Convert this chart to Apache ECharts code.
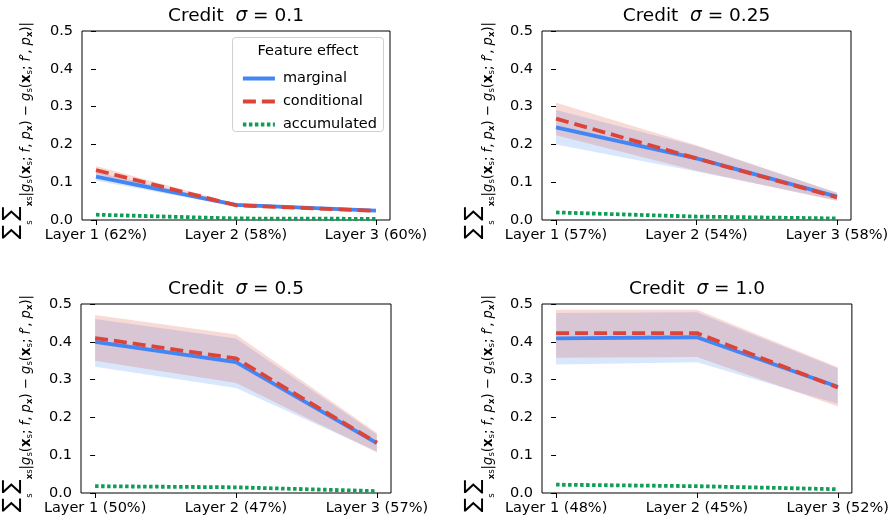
<!DOCTYPE html>
<html>
<head>
<meta charset="utf-8">
<script src="https://cdn.jsdelivr.net/npm/echarts@6/dist/echarts.min.js"></script>
<style>
html,body{margin:0;padding:0;background:#fff;}
#c{width:892px;height:522px;}
</style>
</head>
<body>
<div id="c"></div>
<script>
// ---- data ----
const sigmas = ['0.1', '0.25', '0.5', '1.0'];
const layerLabels = [
  ['Layer 1 (62%)', 'Layer 2 (58%)', 'Layer 3 (60%)'],
  ['Layer 1 (57%)', 'Layer 2 (54%)', 'Layer 3 (58%)'],
  ['Layer 1 (50%)', 'Layer 2 (47%)', 'Layer 3 (57%)'],
  ['Layer 1 (48%)', 'Layer 2 (45%)', 'Layer 3 (52%)']
];
const yTicks = [0, 0.1, 0.2, 0.3, 0.4, 0.5];
const marginal = [[0.115, 0.040, 0.025], [0.245, 0.163, 0.062], [0.400, 0.346, 0.132], [0.409, 0.412, 0.281]];
const conditional = [[0.132, 0.039, 0.024], [0.268, 0.163, 0.060], [0.410, 0.356, 0.133], [0.423, 0.423, 0.279]];
const accumulated = [[0.014, 0.004, 0.003], [0.020, 0.009, 0.004], [0.018, 0.015, 0.005], [0.022, 0.018, 0.010]];
const marginalLow = [[0.104, 0.036, 0.022], [0.200, 0.128, 0.052], [0.334, 0.278, 0.110], [0.340, 0.346, 0.236]];
const marginalHigh = [[0.126, 0.044, 0.028], [0.291, 0.196, 0.072], [0.460, 0.409, 0.155], [0.476, 0.478, 0.330]];
const conditionalLow = [[0.121, 0.035, 0.021], [0.224, 0.130, 0.050], [0.350, 0.291, 0.107], [0.358, 0.360, 0.229]];
const conditionalHigh = [[0.143, 0.043, 0.027], [0.310, 0.198, 0.072], [0.471, 0.419, 0.159], [0.485, 0.485, 0.333]];
const seriesNames = ['marginal', 'conditional', 'accumulated'];

// ---- style ----
const FONT = 'DejaVu Sans';
const BLUE = '#4285f4', RED = '#db4437', GREEN = '#0f9d58';
const LW = 3.8;
const grids = [
  {left: 82, top: 31, width: 308, height: 189},
  {left: 542, top: 31, width: 309, height: 189},
  {left: 81, top: 304, width: 310, height: 189},
  {left: 542, top: 304, width: 310, height: 189}
];

const xAxes = [], yAxes = [], series = [], graphics = [];
grids.forEach((g, k) => {
  xAxes.push({
    type: 'value', gridIndex: k, min: -0.1, max: 2.1,
    axisLine: {show: false},
    splitLine: {show: false},
    axisTick: {show: true, length: 5, lineStyle: {color: '#000', width: 1}, customValues: [0, 1, 2]},
    axisLabel: {
      color: '#000', fontFamily: FONT, fontSize: 14.5, margin: 8,
      customValues: [0, 1, 2],
      formatter: v => layerLabels[k][Math.round(v)]
    }
  });
  yAxes.push({
    type: 'value', gridIndex: k, min: 0, max: 0.5, interval: 0.1,
    axisLine: {show: false},
    splitLine: {show: false},
    axisTick: {show: true, length: 5, lineStyle: {color: '#000', width: 1}},
    axisLabel: {color: '#000', fontFamily: FONT, fontSize: 14.5, margin: 9, formatter: v => v.toFixed(1)}
  });
  const pts = arr => arr[k].map((v, i) => [i, v]);
  const band = (low, high, color, id) => {
    series.push({
      name: '_' + id + k, type: 'custom', xAxisIndex: k, yAxisIndex: k, silent: true, z: 1,
      data: low[k].map((v, i) => [i, v, high[k][i]]),
      encode: {x: 0, y: [1, 2]},
      renderItem: (params, api) => {
        if (params.dataIndex !== 0) return null;
        const top = high[k].map((v, i) => api.coord([i, v]));
        const bot = low[k].map((v, i) => api.coord([i, v])).reverse();
        return {type: 'polygon', shape: {points: top.concat(bot)}, style: {fill: color}};
      }
    });
  };
  band(marginalLow, marginalHigh, 'rgba(66,133,244,0.2)', 'mb');
  band(conditionalLow, conditionalHigh, 'rgba(219,68,55,0.2)', 'cb');
  series.push({
    name: 'marginal', type: 'line', xAxisIndex: k, yAxisIndex: k, data: pts(marginal),
    symbol: 'none', color: BLUE, lineStyle: {color: BLUE, width: LW, type: 'solid'}, z: 3
  });
  series.push({
    name: 'conditional', type: 'line', xAxisIndex: k, yAxisIndex: k, data: pts(conditional),
    symbol: 'none', color: RED, lineStyle: {color: RED, width: LW, type: [13, 6], cap: 'butt'}, z: 4
  });
  series.push({
    name: 'accumulated', type: 'line', xAxisIndex: k, yAxisIndex: k, data: pts(accumulated),
    symbol: 'none', color: GREEN, lineStyle: {color: GREEN, width: LW, type: [3.5, 2.5], cap: 'butt'}, z: 3
  });

  // title
  graphics.push({
    type: 'text', x: g.left + g.width / 2, y: g.top - 15, z: 10,
    style: {
      text: '{n|Credit  }{i|σ}{n| = ' + sigmas[k] + '}',
      textAlign: 'center', textVerticalAlign: 'middle',
      rich: {
        n: {fontFamily: FONT, fontSize: 18.5, fill: '#000'},
        i: {fontFamily: FONT, fontSize: 18.5, fontStyle: 'italic', fill: '#000'}
      }
    }
  });
  // y label
  const lx = (k % 2 === 0) ? 18 : 480;
  graphics.push({
    type: 'text', x: lx, y: g.top + g.height / 2 + 5, rotation: Math.PI / 2, z: 10,
    style: {
      text: '{S|∑}{u|s}{S|∑}{ub|x}{u|s}{m||}{i|g}{u|s}{m|(}{b|x}{u|s}{m|; }{i|f}{m|, }{i|p}{ub|x}{m|) − }{i|g}{u|s}{m|(}{b|x}{u|s}{m|; }{i|f}{m|′, }{i|p}{ub|x}{m|)|}',
      textAlign: 'center', textVerticalAlign: 'middle',
      rich: {
        S: {fontFamily: FONT, fontSize: 21, fill: '#000', lineHeight: 21, verticalAlign: 'top'},
        u: {fontFamily: FONT, fontSize: 8.5, fill: '#000', lineHeight: 10, verticalAlign: 'bottom'},
        ub: {fontFamily: FONT, fontSize: 8.5, fontWeight: 'bold', fill: '#000', lineHeight: 10, verticalAlign: 'bottom'},
        m: {fontFamily: FONT, fontSize: 13.2, fill: '#000', lineHeight: 33, verticalAlign: 'bottom', padding: [0, 0, 1, 0]},
        i: {fontFamily: FONT, fontSize: 13.2, fontStyle: 'italic', fill: '#000', lineHeight: 33, verticalAlign: 'bottom', padding: [0, 0, 1, 0]},
        b: {fontFamily: FONT, fontSize: 13.2, fontWeight: 'bold', fill: '#000', lineHeight: 33, verticalAlign: 'bottom', padding: [0, 0, 1, 0]}
      }
    }
  });
});

// legend box + title
graphics.push({
  type: 'rect', shape: {x: 232.5, y: 37.5, width: 151, height: 94, r: 3}, z: 5,
  style: {fill: 'rgba(255,255,255,0.8)', stroke: '#d0d0d0', lineWidth: 1}
});
graphics.push({
  type: 'text', x: 308, y: 51, z: 6,
  style: {text: 'Feature effect', font: '14.5px "DejaVu Sans"', fill: '#000', textAlign: 'center', textVerticalAlign: 'middle'}
});

const chart = echarts.init(document.getElementById('c'), null, {renderer: 'canvas'});
chart.setOption({
  animation: false,
  backgroundColor: '#fff',
  grid: grids.map(g => Object.assign({show: true, borderColor: '#000', borderWidth: 1, backgroundColor: 'transparent', containLabel: false}, g)),
  xAxis: xAxes,
  yAxis: yAxes,
  legend: {
    data: seriesNames, orient: 'vertical', left: 236, top: 66, itemWidth: 32, itemHeight: 14, itemGap: 8,
    z: 7, selectedMode: false,
    itemStyle: {opacity: 0, color: 'transparent', borderWidth: 0},
    lineStyle: {width: LW},
    textStyle: {fontFamily: FONT, fontSize: 14.5, color: '#000', padding: [0, 0, 0, 3]}
  },
  series: series,
  graphic: graphics
});
</script>
</body>
</html>
